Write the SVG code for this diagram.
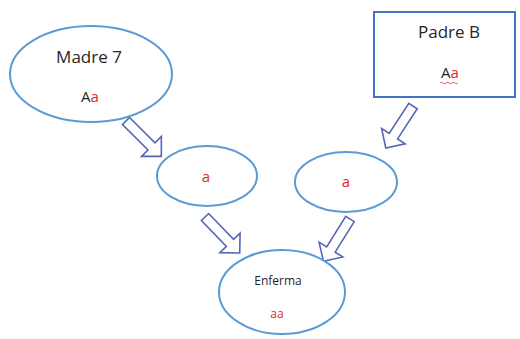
<svg xmlns="http://www.w3.org/2000/svg" width="520" height="339" viewBox="0 0 520 339">
<style>
.node{fill:#ffffff;stroke:#5b9bd5;stroke-width:2}
.box{fill:#ffffff;stroke:#4472c4;stroke-width:2}
.arr{fill:#ffffff;stroke:#5566b8;stroke-width:1.6;stroke-linejoin:miter}
text{font-family:"Open Sans","Liberation Sans",sans-serif;text-anchor:middle}
.lbl{font-size:17px;fill:#262626}
.sm{font-size:15px;fill:#262626}
.red{fill:#e02828}
</style>
<defs>
<polygon id="blk" points="0,-5 36,-5 36,-14 50,0 36,14 36,5 0,5"/>
</defs>
<rect width="520" height="339" fill="#ffffff"/>
<g id="connectors">
<use href="#blk" class="arr" transform="translate(126,121) rotate(45)"/>
<use href="#blk" class="arr" transform="translate(205,217) rotate(46)"/>
<use href="#blk" class="arr" transform="translate(413,106) rotate(123)"/>
<use href="#blk" class="arr" transform="translate(350,219) rotate(122)"/>
</g>
<g id="madre">
<ellipse class="node" cx="91" cy="74" rx="81" ry="48"/>
<text class="lbl" x="89" y="63">Madre 7</text>
<text class="sm" x="90" y="102">A<tspan class="red">a</tspan></text>
</g>
<g id="padre">
<rect class="box" x="374" y="12" width="141" height="85"/>
<text class="lbl" x="449" y="38">Padre B</text>
<text class="sm" x="450" y="78">A<tspan class="red">a</tspan></text>
<path d="M440,83 q1.5,-1.5 3,0 t3,0 t3,0 t3,0 t3,0 t3,0" fill="none" stroke="#e02828" stroke-width="0.8"/>
</g>
<g id="gamete1">
<ellipse class="node" cx="207" cy="176" rx="50" ry="30"/>
<text class="sm red" x="206" y="182">a</text>
</g>
<g id="gamete2">
<ellipse class="node" cx="346" cy="182" rx="51" ry="30"/>
<text class="sm red" x="346" y="187">a</text>
</g>
<g id="enferma">
<ellipse class="node" cx="282" cy="292" rx="63" ry="42"/>
<text x="278" y="285" style="font-size:12px;fill:#262626">Enferma</text>
<text x="277" y="318" style="font-size:12px" class="red">aa</text>
</g>
</svg>
